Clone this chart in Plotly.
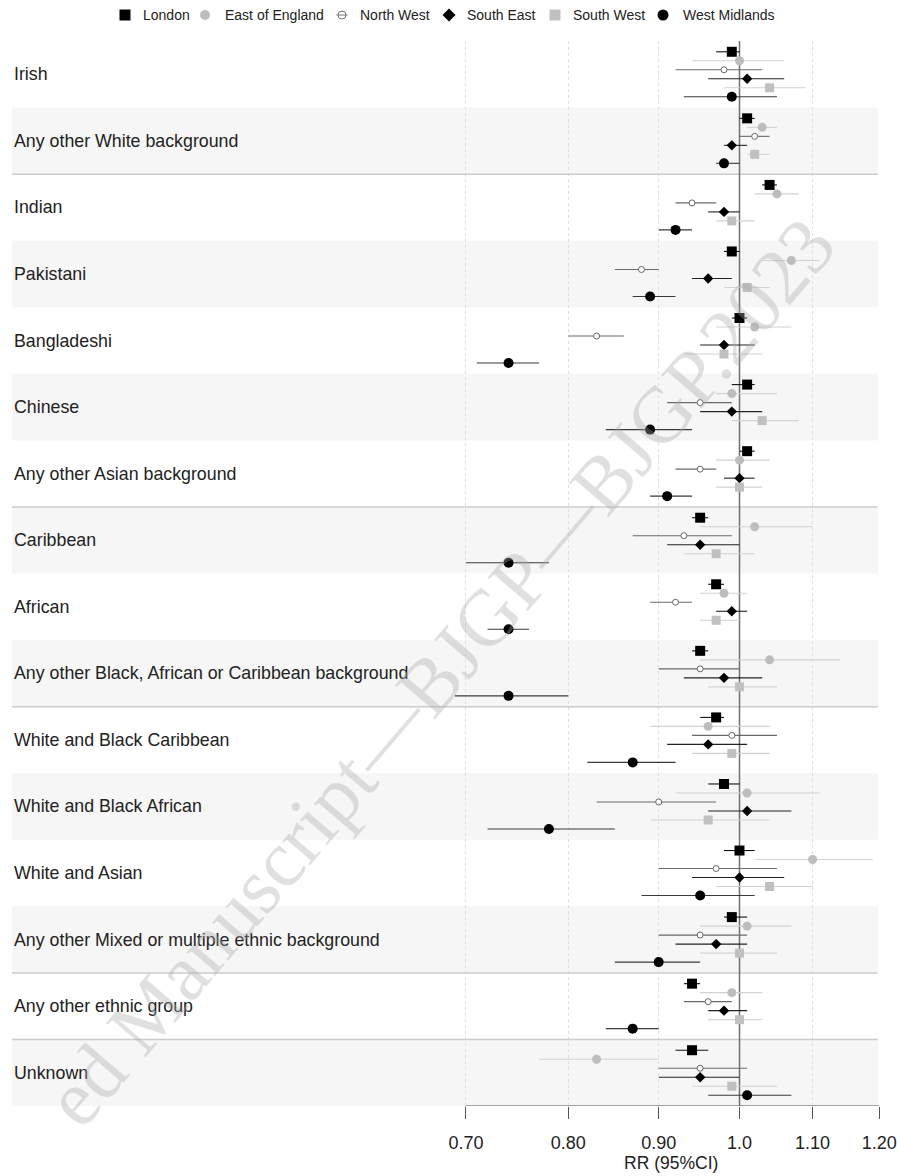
import math
import plotly.graph_objects as go

# ---------------- data ----------------
categories = [
    "Irish",
    "Any other White background",
    "Indian",
    "Pakistani",
    "Bangladeshi",
    "Chinese",
    "Any other Asian background",
    "Caribbean",
    "African",
    "Any other Black, African or Caribbean background",
    "White and Black Caribbean",
    "White and Black African",
    "White and Asian",
    "Any other Mixed or multiple ethnic background",
    "Any other ethnic group",
    "Unknown",
]

regions = ["London", "East of England", "North West", "South East", "South West", "West Midlands"]

london_rr = [0.99, 1.01, 1.04, 0.99, 1.00, 1.01, 1.01, 0.95, 0.97, 0.95, 0.97, 0.98, 1.00, 0.99, 0.94, 0.94]
london_lo = [0.97, 1.00, 1.03, 0.98, 0.99, 0.99, 1.00, 0.94, 0.96, 0.94, 0.95, 0.96, 0.98, 0.98, 0.93, 0.92]
london_hi = [1.00, 1.02, 1.05, 1.00, 1.01, 1.02, 1.02, 0.96, 0.98, 0.96, 0.98, 1.00, 1.02, 1.01, 0.95, 0.96]

eoe_rr = [1.00, 1.03, 1.05, 1.07, 1.02, 0.99, 1.00, 1.02, 0.98, 1.04, 0.96, 1.01, 1.10, 1.01, 0.99, 0.83]
eoe_lo = [0.94, 1.01, 1.02, 1.03, 0.97, 0.97, 0.97, 0.95, 0.95, 0.95, 0.89, 0.92, 1.02, 0.95, 0.95, 0.77]
eoe_hi = [1.06, 1.05, 1.08, 1.11, 1.07, 1.05, 1.04, 1.10, 1.01, 1.14, 1.04, 1.11, 1.19, 1.07, 1.03, 0.90]

nw_rr = [0.98, 1.02, 0.94, 0.88, 0.83, 0.95, 0.95, 0.93, 0.92, 0.95, 0.99, 0.90, 0.97, 0.95, 0.96, 0.95]
nw_lo = [0.92, 1.00, 0.92, 0.85, 0.80, 0.91, 0.92, 0.87, 0.89, 0.90, 0.94, 0.83, 0.90, 0.90, 0.93, 0.90]
nw_hi = [1.03, 1.04, 0.97, 0.90, 0.86, 0.99, 0.97, 0.99, 0.94, 1.00, 1.05, 0.97, 1.05, 1.01, 0.99, 1.01]

se_rr = [1.01, 0.99, 0.98, 0.96, 0.98, 0.99, 1.00, 0.95, 0.99, 0.98, 0.96, 1.01, 1.00, 0.97, 0.98, 0.95]
se_lo = [0.96, 0.98, 0.96, 0.94, 0.95, 0.95, 0.98, 0.91, 0.97, 0.93, 0.91, 0.96, 0.94, 0.92, 0.96, 0.90]
se_hi = [1.06, 1.01, 1.00, 0.99, 1.02, 1.03, 1.02, 1.00, 1.01, 1.03, 1.01, 1.07, 1.06, 1.01, 1.01, 1.00]

sw_rr = [1.04, 1.02, 0.99, 1.01, 0.98, 1.03, 1.00, 0.97, 0.97, 1.00, 0.99, 0.96, 1.04, 1.00, 1.00, 0.99]
sw_lo = [0.98, 1.01, 0.97, 0.98, 0.93, 0.99, 0.97, 0.93, 0.95, 0.96, 0.94, 0.89, 0.97, 0.95, 0.96, 0.94]
sw_hi = [1.09, 1.04, 1.02, 1.04, 1.03, 1.08, 1.03, 1.02, 1.00, 1.05, 1.04, 1.04, 1.10, 1.05, 1.03, 1.05]

wm_rr = [0.99, 0.98, 0.92, 0.89, 0.74, 0.89, 0.91, 0.74, 0.74, 0.74, 0.87, 0.78, 0.95, 0.90, 0.87, 1.01]
wm_lo = [0.93, 0.97, 0.90, 0.87, 0.71, 0.84, 0.89, 0.70, 0.72, 0.69, 0.82, 0.72, 0.88, 0.85, 0.84, 0.96]
wm_hi = [1.05, 1.00, 0.94, 0.92, 0.77, 0.94, 0.94, 0.78, 0.76, 0.80, 0.92, 0.85, 1.02, 0.95, 0.90, 1.07]

tick_vals = [0.70, 0.80, 0.90, 1.0, 1.10, 1.20]
tick_text = ["0.70", "0.80", "0.90", "1.0", "1.10", "1.20"]
axis_title = "RR (95%CI)"
watermark = "ed Manuscript\u2014BJGP\u2014BJGP.2023"

# ---------------- layout constants ----------------
W, H = 897, 1176
PLOT_R = 880          # right edge of plotting area (px)
TOP, BOT = 41, 1106   # top / bottom of the row area (px)
PX_PER_LN = 767.0
X_ONE = 739.5         # pixel of RR = 1.0
LN10 = math.log(10)
log_left = (0 - X_ONE) / PX_PER_LN / LN10
log_right = (PLOT_R - X_ONE) / PX_PER_LN / LN10
n = len(categories)
row_px = (BOT - TOP) / n
FONT = "Liberation Sans, Arial, sans-serif"


def px_to_val(px):
    return 10 ** (log_left + px / PX_PER_LN / LN10)


BAND_X0 = px_to_val(12)
BAND_X1 = px_to_val(878)

series = [
    dict(name=regions[0], rr=london_rr, lo=london_lo, hi=london_hi,
         marker=dict(symbol="square", size=10, color="black"), ci="#111111"),
    dict(name=regions[1], rr=eoe_rr, lo=eoe_lo, hi=eoe_hi,
         marker=dict(symbol="circle", size=9, color="#bdbdbd"), ci="#d2d2d2"),
    dict(name=regions[2], rr=nw_rr, lo=nw_lo, hi=nw_hi,
         marker=dict(symbol="circle", size=6, color="white", line=dict(color="#666666", width=1)), ci="#6a6a6a"),
    dict(name=regions[3], rr=se_rr, lo=se_lo, hi=se_hi,
         marker=dict(symbol="diamond", size=8, color="black"), ci="#222222"),
    dict(name=regions[4], rr=sw_rr, lo=sw_lo, hi=sw_hi,
         marker=dict(symbol="square", size=9, color="#c0c0c0"), ci="#d2d2d2"),
    dict(name=regions[5], rr=wm_rr, lo=wm_lo, hi=wm_hi,
         marker=dict(symbol="circle", size=10, color="black"), ci="#3a3a3a"),
]

fig = go.Figure()

for k, s in enumerate(series):
    off = (k - 2.5) * 9.0 / row_px
    ys = [i + off for i in range(n)]
    fig.add_trace(go.Scatter(
        x=s["rr"], y=ys, mode="markers", name=s["name"], showlegend=False,
        marker=s["marker"],
        error_x=dict(type="data", symmetric=False,
                     array=[h - r for h, r in zip(s["hi"], s["rr"])],
                     arrayminus=[r - l for r, l in zip(s["rr"], s["lo"])],
                     color=s["ci"], thickness=1.1, width=0),
        xaxis="x", yaxis="y", hoverinfo="skip",
    ))

# ---------------- legend (manual, on an overlay pixel axis) ----------------
leg_sym_x = [125, 205, 342, 449, 555, 663]
leg_txt_x = [141, 223, 358, 465, 571, 681]
leg_markers = [
    dict(symbol="square", size=11, color="black"),
    dict(symbol="circle", size=10, color="#bdbdbd"),
    dict(symbol="circle", size=8, color="white", line=dict(color="#777777", width=1)),
    dict(symbol="diamond", size=10, color="black"),
    dict(symbol="square", size=11, color="#c0c0c0"),
    dict(symbol="circle", size=11, color="black"),
]
for k, s in enumerate(series):
    fig.add_trace(go.Scatter(x=[leg_sym_x[k]], y=[15], mode="markers", marker=leg_markers[k],
                             xaxis="x2", yaxis="y2", showlegend=False, hoverinfo="skip"))
    if k == 2:
        fig.add_trace(go.Scatter(x=[leg_sym_x[k]], y=[15], mode="markers",
                                 marker=dict(symbol="line-ew", size=8, line=dict(color="#777777", width=1)),
                                 xaxis="x2", yaxis="y2", showlegend=False, hoverinfo="skip"))

annotations = []
for k, s in enumerate(series):
    annotations.append(dict(x=leg_txt_x[k], y=15, xref="x2", yref="y2", text=s["name"], showarrow=False,
                            xanchor="left", yanchor="middle", font=dict(family=FONT, size=14, color="#222222")))

# row labels
for i, c in enumerate(categories):
    annotations.append(dict(x=12 / PLOT_R, y=i, xref="paper", yref="y", text=c, showarrow=False,
                            xanchor="left", yanchor="middle", font=dict(family=FONT, size=17.8, color="#222222")))

# axis title
annotations.append(dict(x=671 / PLOT_R, y=(BOT - 1163) / BOT, xref="paper", yref="paper", text=axis_title,
                        showarrow=False, xanchor="center", yanchor="middle",
                        font=dict(family=FONT, size=17.5, color="#222222")))

# watermark
annotations.append(dict(x=440 / PLOT_R, y=(BOT - 672) / BOT, xref="paper", yref="paper", text=watermark,
                        showarrow=False, xanchor="center", yanchor="middle", textangle=-49.4,
                        font=dict(family="Liberation Serif, Times New Roman, serif", size=80,
                                  color="rgba(170,170,170,0.36)")))

# ---------------- shapes ----------------
shapes = []
for i in range(n):
    if i % 2 == 1:
        shapes.append(dict(type="rect", xref="x", yref="y", x0=BAND_X0, x1=BAND_X1, y0=i - 0.5, y1=i + 0.5,
                           fillcolor="#f6f6f6", line=dict(width=0), layer="below"))
for i in [1, 6, 9, 13, 14]:
    shapes.append(dict(type="line", xref="x", yref="y", x0=BAND_X0, x1=BAND_X1, y0=i + 0.5, y1=i + 0.5,
                       line=dict(color="#cccccc", width=1.5), layer="between"))
# reference line at RR = 1
shapes.append(dict(type="line", xref="x", yref="y", x0=1, x1=1, y0=-0.5, y1=n - 0.5,
                   line=dict(color="#707070", width=1.5), layer="between"))
# x axis line between first and last ticks
shapes.append(dict(type="line", xref="x", yref="y", x0=tick_vals[0], x1=tick_vals[-1], y0=n - 0.5, y1=n - 0.5,
                   line=dict(color="#555555", width=1.2), layer="above"))

fig.update_layout(
    width=W, height=H, autosize=False,
    margin=dict(l=0, r=W - PLOT_R, t=0, b=H - BOT),
    paper_bgcolor="white", plot_bgcolor="rgba(0,0,0,0)",
    showlegend=False,
    xaxis=dict(type="log", range=[log_left, log_right], tickvals=tick_vals, ticktext=tick_text,
               ticks="outside", ticklen=12, tickwidth=1.2, tickcolor="#555555",
               tickfont=dict(family=FONT, size=18, color="#222222"), ticklabelstandoff=8,
               showgrid=True, gridcolor="#dedede", griddash="3px,3px", gridwidth=1,
               zeroline=False, showline=False, anchor="y", domain=[0, 1]),
    yaxis=dict(range=[n - 0.5, -0.5], domain=[0, 1 - TOP / BOT], visible=False, showgrid=False,
               zeroline=False, anchor="x"),
    xaxis2=dict(range=[0, PLOT_R], domain=[0, 1], visible=False, anchor="y2", showgrid=False, zeroline=False),
    yaxis2=dict(range=[30, 0], domain=[1 - 30 / BOT, 1], visible=False, anchor="x2", showgrid=False,
                zeroline=False),
    annotations=annotations,
    shapes=shapes,
)

fig.write_html("out.html")
